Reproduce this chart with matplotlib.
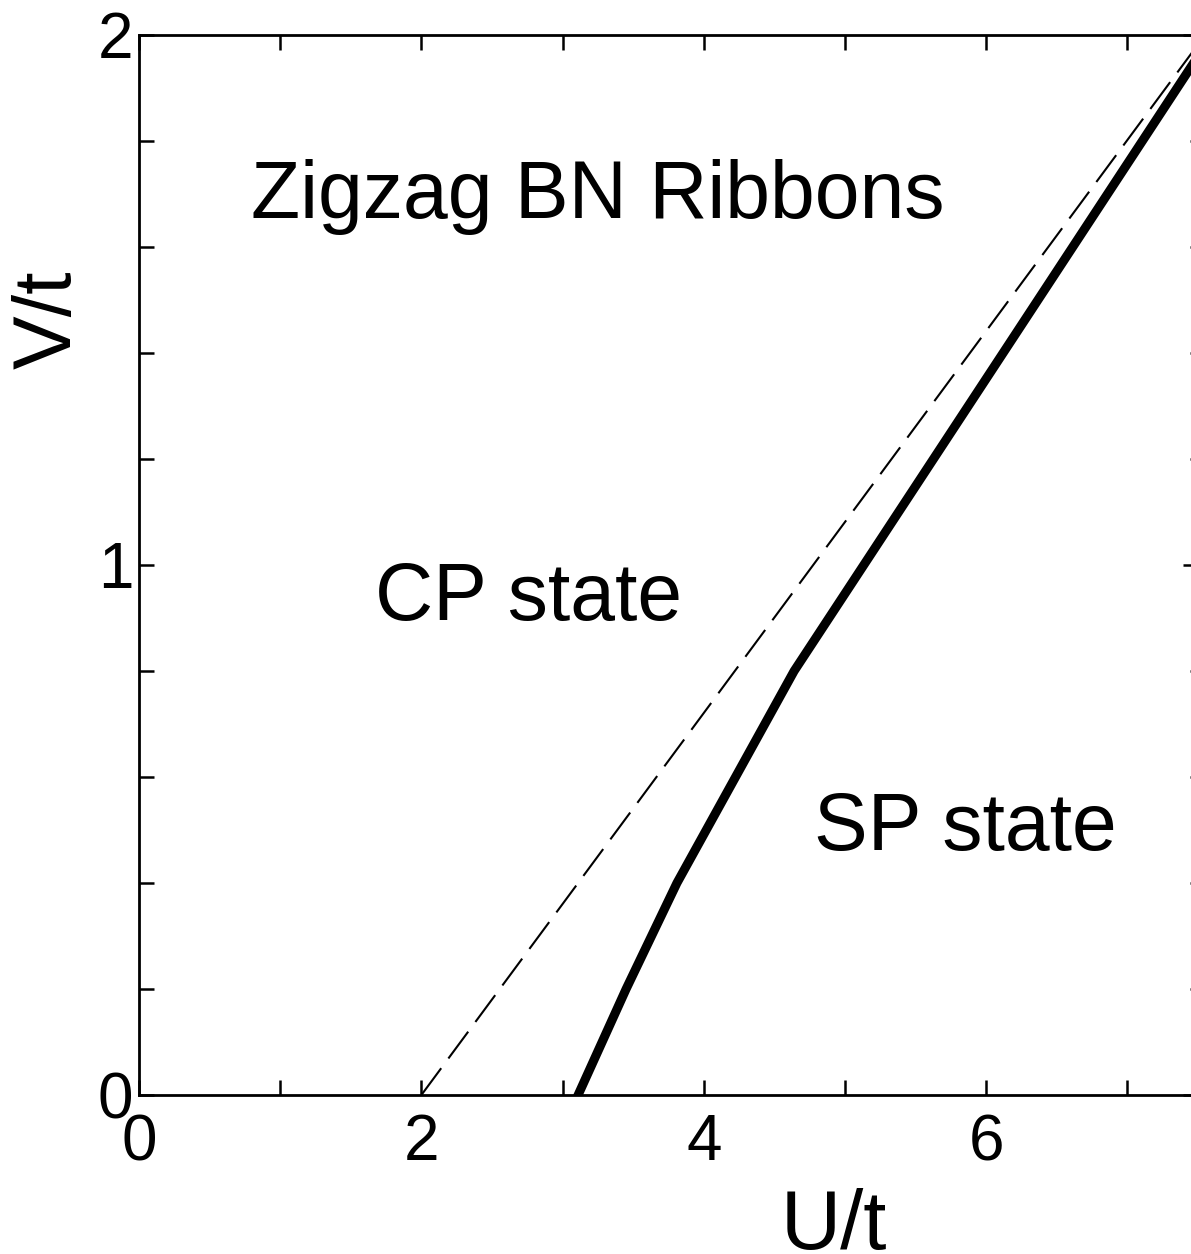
import matplotlib
matplotlib.use('Agg')
import matplotlib.pyplot as plt
from matplotlib.ticker import FixedLocator, MultipleLocator

plt.rcParams['font.family'] = ['Liberation Sans', 'DejaVu Sans']

# ---- data ----
boundary_U = [3.11, 3.45, 3.81, 4.64, 6.12, 7.55]   # thick phase boundary
boundary_V = [0.00, 0.20, 0.40, 0.80, 1.40, 1.98]
ref_U = [2.0, 7.55]                                  # dashed reference line
ref_V = [0.0, 2.0]

x_major = [0, 2, 4, 6]
x_labels = ['0', '2', '4', '6']
x_minor = [1, 3, 5, 7]
y_major = [0, 1, 2]
y_labels = ['0', '1', '2']

labels_text = ['Zigzag BN Ribbons', 'CP state', 'SP state']
labels_U = [0.79, 1.675, 4.78]
labels_V = [1.655, 0.896, 0.462]
labels_size = [58, 58, 58]

# ---- figure ----
W, H = 1191, 1254
fig = plt.figure(figsize=(W / 100, H / 100), dpi=100)
L, R, T, B = 139, 1205, 35, 1095
ax = fig.add_axes([L / W, (H - B) / H, (R - L) / W, (B - T) / H])

ax.plot(ref_U, ref_V, color='black', lw=1.5, ls=(0, (16, 5.8)))
ax.plot(boundary_U, boundary_V, color='black', lw=6.5, solid_joinstyle='miter')

ax.set_xlim(0, 7.55)
ax.set_ylim(0, 2)

ax.xaxis.set_major_locator(FixedLocator(x_major))
ax.set_xticklabels(x_labels)
ax.xaxis.set_minor_locator(FixedLocator(x_minor))
ax.yaxis.set_major_locator(FixedLocator(y_major))
ax.set_yticklabels(y_labels)
ax.yaxis.set_minor_locator(MultipleLocator(0.2))

ax.tick_params(which='both', direction='in', top=True, right=False,
               length=11, width=1.8, labelsize=46)
ax.tick_params(axis='x', which='major', pad=13)
ax.tick_params(axis='y', which='major', pad=4)

for s in ax.spines.values():
    s.set_linewidth(2)

sec = ax.secondary_yaxis('right')
sec.yaxis.set_major_locator(FixedLocator(y_major))
sec.yaxis.set_minor_locator(MultipleLocator(0.2))
sec.set_yticklabels([])
sec.tick_params(which='major', direction='in', length=16, width=1.8)
sec.tick_params(which='minor', direction='in', length=11, width=1.8)
sec.spines['right'].set_linewidth(2)

ax.set_xlabel('U/t', fontsize=60)
ax.xaxis.label.set_va('baseline')
ax.xaxis.set_label_coords(0.652, -0.1450)
ax.set_ylabel('V/t', fontsize=58)
ax.yaxis.label.set_va('baseline')
ax.yaxis.set_label_coords(-0.0645, 0.731)

for txt, u, v, fs in zip(labels_text, labels_U, labels_V, labels_size):
    ax.text(u, v, txt, fontsize=fs, ha='left', va='baseline')

fig.savefig('out.png', dpi=100)
